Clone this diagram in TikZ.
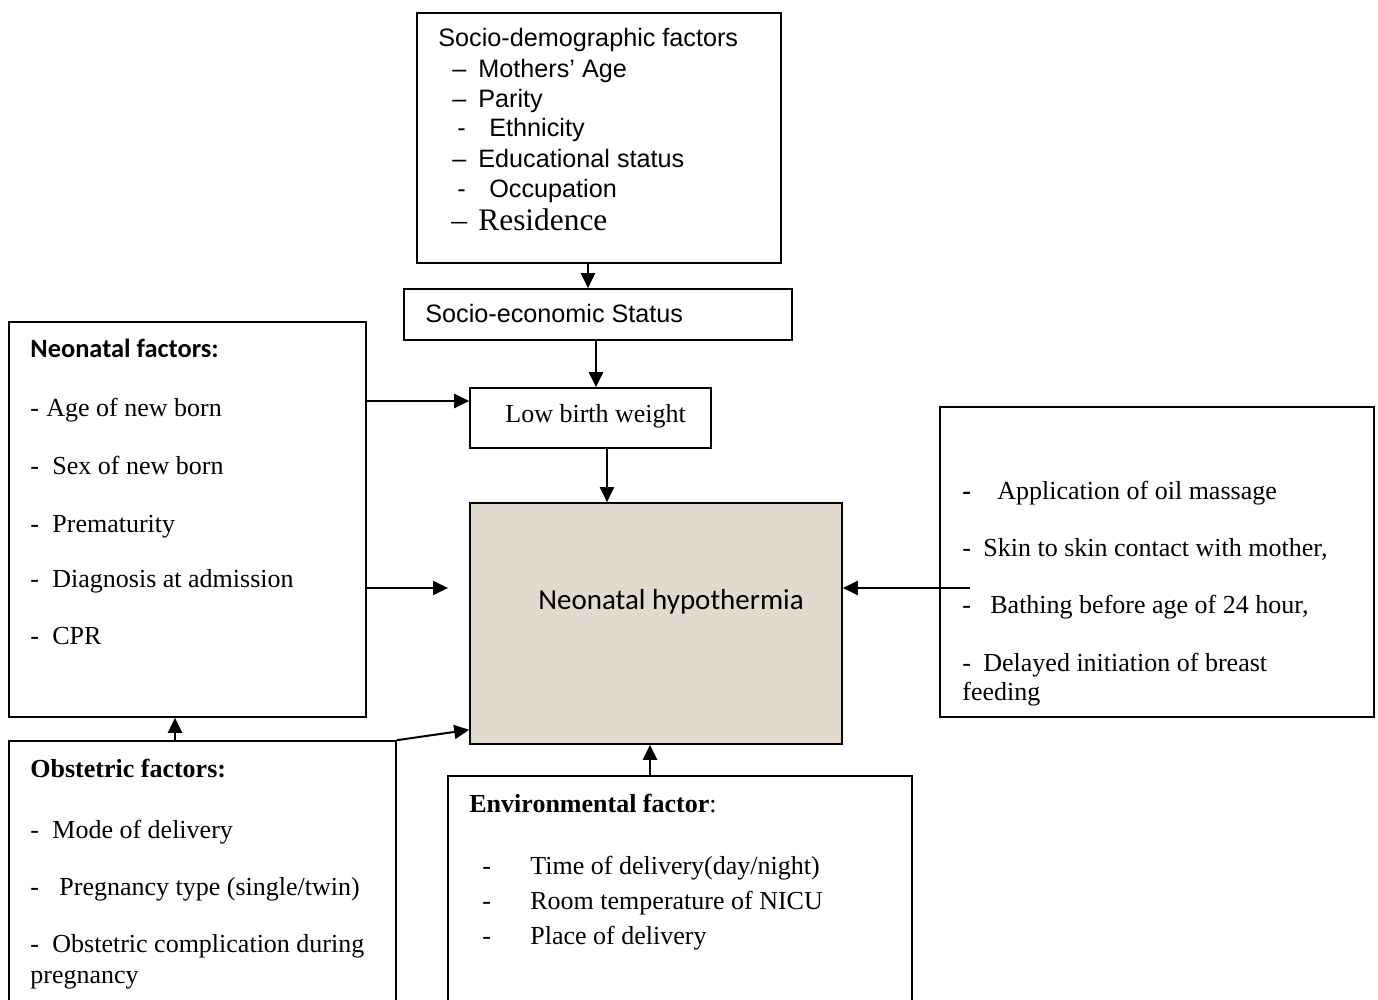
\documentclass[tikz,border=0pt]{standalone}
\usepackage{fontspec}
\setmainfont{Liberation Serif}
\newfontfamily\arialf{Liberation Sans}
\newfontfamily\calf{Carlito}
\usetikzlibrary{arrows.meta,fit,calc}
\definecolor{nhfill}{HTML}{E2DACE}
\begin{document}
\begin{tikzpicture}[x=0.5pt,y=-0.5pt,
  box/.style={draw, line width=0.8pt, inner sep=0pt, fit={#1}},
  arr/.style={line width=1pt, -{Triangle[length=7.5pt,width=7pt]}},
  tx/.style={anchor=base west, inner sep=0pt, font=\fontsize{13}{15}\selectfont},
  ar/.style={anchor=base west, inner sep=0pt, font=\arialf\fontsize{12.6}{15}\selectfont},
  cb/.style={anchor=base west, inner sep=0pt, font=\calf\bfseries\fontsize{13.2}{15}\selectfont},
  cr/.style={anchor=base west, inner sep=0pt, font=\calf\fontsize{14.5}{17}\selectfont}]
\clip (0,0) rectangle (1378,1000);
\useasboundingbox (0,0) rectangle (1378,1000);
% boxes
\node[box={(417,13) (781,263)}] (sd) {};
\node[box={(404,289) (792,340)}] (ses) {};
\node[box={(470,388) (711,448)}] (lbw) {};
\node[box={(470,503) (842,744)}, fill=nhfill] (nh) {};
\node[box={(9,322) (366,717)}] (neo) {};
\node[box={(940,407) (1374,717)}] (rt) {};
\node[box={(9,741) (396,1020)}] (obs) {};
\node[box={(448,776) (912,1020)}] (env) {};
% socio-demographic text
\node[ar] (sd0) at (438,47) {Socio-demographic factors};
\node[ar] (sd1) at (452,78) {\makebox[13pt][l]{–}Mothers’ Age};
\node[ar] (sd2) at (452,108) {\makebox[13pt][l]{–}Parity};
\node[ar] (sd3) at (457,137) {\makebox[16pt][l]{-}Ethnicity};
\node[ar] (sd4) at (452,168) {\makebox[13pt][l]{–}Educational status};
\node[ar] (sd5) at (457,198) {\makebox[16pt][l]{-}Occupation};
\node[anchor=base west, inner sep=0pt, font=\fontsize{15.7}{18}\selectfont] (sd6) at (451,231) {\makebox[13.5pt][l]{–}Residence};
% other single texts
\node[ar] (sest) at (425,323) {Socio-economic Status};
\node[tx] (lbwt) at (505,423) {Low birth weight};
\node[cr] (nht) at (538,610) {Neonatal hypothermia};
% neonatal
\node[cb] (neo0) at (30,358) {Neonatal factors:};
\node[tx] (neo1) at (30,417) {\makebox[8pt][l]{-}Age of new born};
\node[tx] (neo2) at (30,474) {\makebox[11pt][l]{-}Sex of new born};
\node[tx] (neo3) at (30,532) {\makebox[11pt][l]{-}Prematurity};
\node[tx] (neo4) at (30,588) {\makebox[11pt][l]{-}Diagnosis at admission};
\node[tx] (neo5) at (30,645) {\makebox[11pt][l]{-}CPR};
% right box
\node[tx] (rt1) at (962,500) {\makebox[17.5pt][l]{\bfseries -}Application of oil massage};
\node[tx] (rt2) at (962,557) {\makebox[10.5pt][l]{-}Skin to skin contact with mother,};
\node[tx] (rt3) at (962,613) {\makebox[14pt][l]{-}Bathing before age of 24 hour,};
\node[tx] (rt4) at (962,671) {\makebox[10.5pt][l]{-}Delayed initiation of breast};
\node[tx] (rt5) at (962,700) {feeding};
% obstetric
\node[tx] (obs0) at (30,777) {\bfseries Obstetric factors:};
\node[tx] (obs1) at (30,838) {\makebox[11pt][l]{-}Mode of delivery};
\node[tx] (obs2) at (30,895) {\makebox[14.5pt][l]{-}Pregnancy type (single/twin)};
\node[tx] (obs3) at (30,952) {\makebox[11pt][l]{-}Obstetric complication during};
\node[tx] (obs4) at (30,983) {pregnancy};
% environmental
\node[tx] (env0) at (469,812) {\textbf{Environmental factor}:};
\node[tx] (env1) at (482,874) {\makebox[24pt][l]{-}Time of delivery(day/night)};
\node[tx] (env2) at (482,909) {\makebox[24pt][l]{-}Room temperature of NICU};
\node[tx] (env3) at (482,944) {\makebox[24pt][l]{-}Place of delivery};
% connectors
\coordinate (e1) at (448,588);
\coordinate (e2) at (970,588);
\draw[arr] ([xshift=-5.5pt]sd.south) -- ([xshift=-5.5pt]sd.south |- ses.north);
\draw[arr] ([xshift=-1pt]ses.south) -- ([xshift=-1pt]ses.south |- lbw.north);
\draw[arr] ([xshift=8.25pt]lbw.south) -- ([xshift=8.25pt]lbw.south |- nh.north);
\draw[arr] ([yshift=8.5pt]lbw.west -| neo.east) -- ([yshift=8.5pt]lbw.west);
\draw[arr] (neo.east |- e1) -- (e1);
\draw[arr] (e2) -- (e2 -| nh.east);
\draw[arr] ([xshift=-13.75pt]obs.north) -- ([xshift=-13.75pt]obs.north |- neo.south);
\draw[arr] (obs.north east) -- ([yshift=7.5pt]nh.south west);
\draw[arr] ([xshift=-15pt]env.north) -- ([xshift=-15pt]env.north |- nh.south);
\end{tikzpicture}
\end{document}
